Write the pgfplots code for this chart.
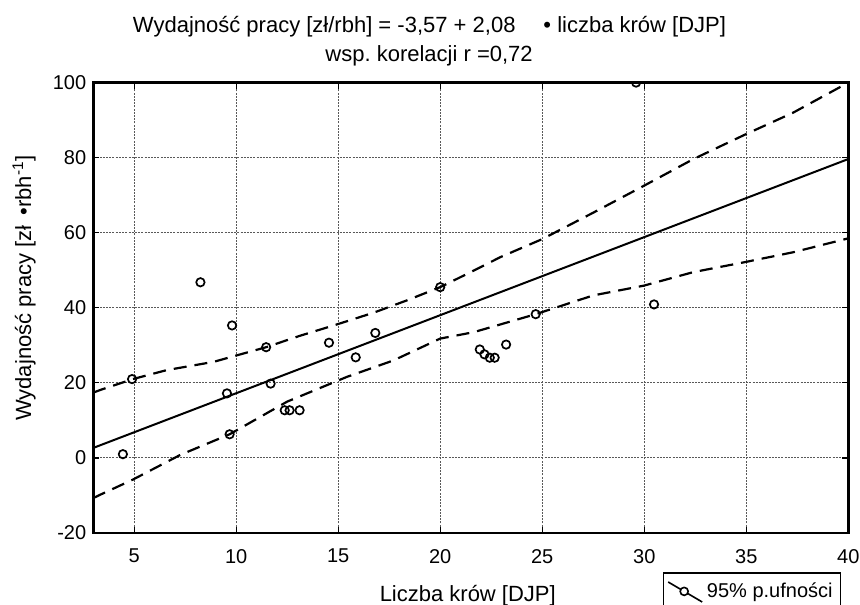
\documentclass[border=0pt]{standalone}
\usepackage{fontspec}
\setmainfont{Liberation Sans}
\usepackage{pgfplots}
\pgfplotsset{compat=1.18}
\frenchspacing

% punkty pomiarowe
\pgfplotstableread{
x y
4.45 1.0
4.90 21.0
8.25 46.8
9.55 17.2
9.68 6.3
9.80 35.3
11.47 29.5
11.69 19.8
12.38 12.7
12.62 12.7
13.11 12.7
14.55 30.7
15.86 26.8
16.82 33.3
20.00 45.5
21.94 28.9
22.17 27.6
22.43 26.7
22.67 26.7
23.23 30.2
24.68 38.3
29.60 100.0
30.48 40.9
}\punkty

% gorna granica 95% p. ufnosci
\pgfplotstableread{
x y
3.00 17.4
3.34 18.1
4.93 21.0
6.60 23.4
8.90 25.6
9.88 27.1
11.47 29.5
13.10 32.5
14.78 35.3
16.74 38.7
18.38 42.0
20.00 45.5
21.64 49.9
22.95 53.5
25.00 58.3
27.52 65.4
29.98 72.5
32.40 79.6
34.96 86.2
37.30 92.0
40.00 100.0
}\gorna

% dolna granica
\pgfplotstableread{
x y
3.00 -10.7
3.34 -9.8
4.93 -5.8
7.26 0.8
9.68 6.3
12.50 15.0
15.43 21.6
17.72 26.0
20.00 31.8
21.64 33.5
24.68 38.3
27.50 43.3
29.98 45.9
32.40 49.5
34.87 52.1
37.30 54.8
40.00 58.5
}\dolna

\begin{document}
\begin{tikzpicture}
\begin{axis}[
    scale only axis,
    width=377.5pt, height=225.2pt,
    xmin=3, xmax=40, ymin=-20, ymax=100,
    xtick={5,10,...,40}, ytick={-20,0,...,100},
    tick pos=both, tick align=inside, major tick length=3pt,
    tick style={black, line width=0.6pt},
    axis line style={black, line width=1.3pt},
    grid=major,
    major grid style={black!65, line width=0.45pt, dash pattern=on 1pt off 0.6pt},
    /pgf/number format/assume math mode=true,
    ticklabel style={font=\fontsize{10}{12}\selectfont},
    xticklabel style={yshift=-4.5pt},
    label style={font=\fontsize{11}{13}\selectfont},
    xlabel={Liczba krów [DJP]},
    ylabel={Wydajność pracy [zł\hspace{5pt}•rbh\textsuperscript{-1}]},
    xlabel style={at={(axis description cs:0.496,-0.153)}, anchor=base},
    ylabel style={at={(axis description cs:-0.0917,0.544)}, anchor=center},
    clip marker paths=true,
    legend cell align=left,
    legend style={at={(0.754,-0.0873)}, anchor=north west, draw=black,
        line width=0.8pt, font=\fontsize{10}{12}\selectfont,
        inner xsep=2pt, inner ysep=3pt},
]
\addplot[forget plot, only marks, mark=o, mark size=2.1pt,
    mark options={black, line width=0.85pt}] table {\punkty};
\addplot[forget plot, black, line width=1pt] coordinates {(3,2.67) (40,79.63)};
\addplot[forget plot, black, line width=1.1pt, dash pattern=on 6.5pt off 4pt] table {\gorna};
\addplot[forget plot, black, line width=1.1pt, dash pattern=on 6.5pt off 4pt] table {\dolna};

\addlegendimage{legend image code/.code={
    \draw[black, line width=0.8pt] (0pt,5pt) -- (17pt,-5pt);
    \draw[black, line width=0.8pt, fill=white] (8pt,0.3pt) circle (2pt);}}
\addlegendentry{95\% p.ufności\hspace{22pt}}
\end{axis}

\node[anchor=base, font=\fontsize{11}{13}\selectfont] at (168.1pt,250pt)
    {Wydajność pracy [zł/rbh] = -3,57 + 2,08\hspace{14pt}• liczba krów [DJP]};
\node[anchor=base, font=\fontsize{11}{13}\selectfont] at (167.9pt,235.6pt)
    {wsp. korelacji r =0,72};

\pgfresetboundingbox
\path[use as bounding box] (-46.65pt,-35.5pt) rectangle (383.35pt,266.5pt);
\end{tikzpicture}
\end{document}
